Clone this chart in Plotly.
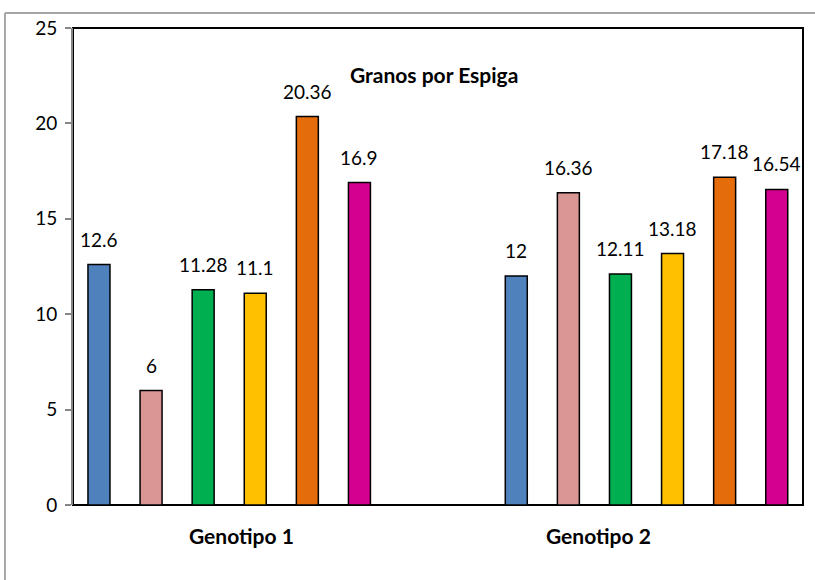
import plotly.graph_objects as go

categories = ["Genotipo 1", "Genotipo 2"]
series_names = ["S1", "S2", "S3", "S4", "S5", "S6"]
series_values = [
    [12.6, 12],
    [6, 16.36],
    [11.28, 12.11],
    [11.1, 13.18],
    [20.36, 17.18],
    [16.9, 16.54],
]
series_colors = ["#4F81BD", "#D99694", "#00B050", "#FFC000", "#E46C0A", "#D4008F"]
value_labels = [
    ["12.6", "12"],
    ["6", "16.36"],
    ["11.28", "12.11"],
    ["11.1", "13.18"],
    ["20.36", "17.18"],
    ["16.9", "16.54"],
]
y_ticks = [0, 5, 10, 15, 20, 25]

FONT = "Lato"
BARGAP = 0.251
BARGROUPGAP = 0.578

fig = go.Figure()
for name, vals, col in zip(series_names, series_values, series_colors):
    fig.add_trace(go.Bar(
        name=name, x=list(range(len(categories))), y=vals,
        marker=dict(color=col, line=dict(color="#000000", width=1.5)),
        hoverinfo="skip",
    ))

# value labels placed at bar centres derived from the grouping parameters
n = len(series_values)
pitch = (1 - BARGAP) / n
annotations = []
for j, (vals, labs) in enumerate(zip(series_values, value_labels)):
    for i, (v, lab) in enumerate(zip(vals, labs)):
        annotations.append(dict(
            x=i + (j - (n - 1) / 2) * pitch, y=v, xref="x", yref="y",
            text=lab, showarrow=False, yanchor="bottom", yshift=12,
            font=dict(family=FONT, size=19, color="#000000"),
        ))

cat_label_x = [0.2308, 0.7199]
for cx, cat in zip(cat_label_x, categories):
    annotations.append(dict(
        x=cx, y=-0.063, xref="paper", yref="paper", text="<b>%s</b>" % cat,
        showarrow=False, xanchor="center", yanchor="middle",
        font=dict(family=FONT, size=21, color="#000000"),
    ))

annotations.append(dict(
    x=0.4945, y=0.9015, xref="paper", yref="paper", text="<b>Granos por Espiga</b>",
    showarrow=False, xanchor="center", yanchor="middle",
    font=dict(family=FONT, size=21, color="#000000"),
))

shapes = [
    # plot-area frame (black)
    dict(type="rect", xref="paper", yref="paper", x0=0, y0=0, x1=1, y1=1,
         line=dict(color="#000000", width=2), layer="below"),
    # outer chart border (grey), left and top edges
    dict(type="line", xref="paper", yref="paper", x0=-0.0932, y0=1.0314, x1=1.1, y1=1.0314,
         line=dict(color="#A6A6A6", width=2)),
    dict(type="line", xref="paper", yref="paper", x0=-0.0932, y0=1.0314, x1=-0.0932, y1=-0.3,
         line=dict(color="#A6A6A6", width=2)),
]

fig.update_layout(
    width=815, height=580,
    margin=dict(l=73, r=12, t=28, b=75),
    paper_bgcolor="#FFFFFF", plot_bgcolor="#FFFFFF",
    barmode="group", bargap=BARGAP, bargroupgap=BARGROUPGAP,
    showlegend=False,
    annotations=annotations, shapes=shapes,
    font=dict(family=FONT, size=18, color="#000000"),
)
fig.update_xaxes(range=[-0.3743, 1.375], showticklabels=False, showgrid=False,
                 zeroline=False, showline=False, ticks="")
fig.update_yaxes(range=[0, 25], tickvals=y_ticks, showgrid=False, zeroline=False,
                 showline=True, linecolor="#868686", linewidth=2,
                 ticks="outside", ticklen=6, tickcolor="#868686", tickwidth=1.5,
                 ticklabelstandoff=4,
                 tickfont=dict(family=FONT, size=19, color="#000000"))

fig.write_html("out.html", config={"displayModeBar": False},
               post_script="document.body.style.margin='0';document.body.style.overflow='hidden';")
